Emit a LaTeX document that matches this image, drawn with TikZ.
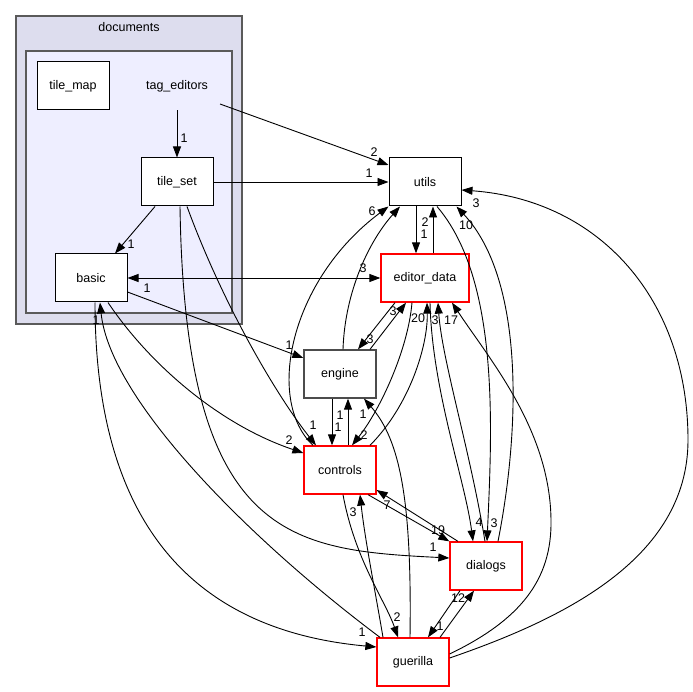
\documentclass[tikz,border=0pt]{standalone}
\usepackage{fontspec}
\setmainfont{Liberation Sans}
\usetikzlibrary{arrows.meta}
\definecolor{outerfill}{HTML}{DDDDEE}
\definecolor{innerfill}{HTML}{EEEEFF}
\definecolor{frame}{HTML}{5A5A5A}
\begin{document}
\begin{tikzpicture}[x=1pt, y=-1pt, every node/.style={font=\fontsize{12.5}{15}\selectfont}, dir/.style={draw, fill=white, minimum width=72pt, minimum height=48pt, inner sep=0pt, line width=1pt}, hot/.style={dir, draw=red, line width=1.3pt}, outerbox/.style={draw=frame, fill=outerfill, line width=1.3pt, inner sep=0pt}, innerbox/.style={draw=frame, fill=innerfill, line width=1.3pt, inner sep=0pt}, arr/.style={-{Triangle[length=11pt,width=8pt]}, line width=0.9pt}, arrboth/.style={{Triangle[length=11pt,width=8pt]}-{Triangle[length=11pt,width=8pt]}, line width=0.9pt}, num/.style={inner sep=0pt}]
\useasboundingbox (0,0) rectangle (693,692);
\node[outerbox, minimum width=226pt, minimum height=308pt] (documents) at (129,170) {};
\node (docname) at (129,27) {documents};
\node[innerbox, minimum width=206pt, minimum height=262pt] (tagcluster) at (129,182) {};
\node[dir] (tilemap) at (73,86) {tile\_map};
\node (tageditors) at (177,86) {tag\_editors};
\node[dir] (tileset) at (177,182) {tile\_set};
\node[dir] (basic) at (91,278) {basic};
\node[dir] (utils) at (425,182) {utils};
\node[hot, minimum width=88pt] (editordata) at (425,278) {editor\_data};
\node[dir, draw=black!70, line width=1.3pt] (engine) at (340,374) {engine};
\node[hot] (controls) at (340,470) {controls};
\node[hot] (dialogs) at (486,566) {dialogs};
\node[hot] (guerilla) at (413,662) {guerilla};
\draw[arr] ([yshift=-15pt]tageditors.south) -- (tileset.north);
\draw[arr] ([xshift=43pt,yshift=-18pt]tageditors.center) -- ([yshift=17pt]utils.west);
\draw[arr] (tileset.east) -- (utils.west);
\draw[arr] ([xshift=-22pt]tileset.south) -- ([xshift=24pt]basic.north);
\draw[arrboth] (basic.east) -- (editordata.west);
\draw[arr] ([yshift=-14pt]basic.east) -- ([yshift=16pt]engine.west);
\draw[arr] ([xshift=17pt]basic.south) .. controls (150,365) and (220,425) .. ([yshift=17pt]controls.west);
\draw[arr] ([xshift=4pt]basic.south) .. controls (95,520) and (190,630) .. ([yshift=15pt]guerilla.west);
\draw[arr] ([xshift=-33pt]guerilla.north) .. controls (250,540) and (110,400) .. ([xshift=9pt]basic.south);
\draw[arr] ([xshift=10pt]tileset.south) .. controls (225,310) and (280,400) .. ([xshift=-24pt]controls.north);
\draw[arr] ([xshift=3pt]tileset.south) .. controls (185,540) and (290,550) .. ([yshift=8pt]dialogs.west);
\draw[arr] ([xshift=-27pt]controls.north) .. controls (265,400) and (290,280) .. (utils.south west);
\draw[arr] ([xshift=3pt]engine.north) .. controls (345,290) and (370,240) .. ([xshift=-25pt]utils.south);
\draw[arr] ([xshift=-9pt]utils.south) -- ([xshift=-9pt]editordata.north);
\draw[arr] ([xshift=8pt]editordata.north) -- ([xshift=8pt]utils.south);
\draw[arr] ([xshift=-30pt]editordata.south) -- ([xshift=18pt]engine.north);
\draw[arr] ([xshift=30pt]engine.north) -- ([xshift=-19pt]editordata.south);
\draw[arr] ([xshift=-8pt]engine.south) -- ([xshift=-8pt]controls.north);
\draw[arr] ([xshift=8pt]controls.north) -- ([xshift=8pt]engine.south);
\draw[arr] ([xshift=-13pt]editordata.south) .. controls (408,350) and (380,410) .. ([xshift=12pt]controls.north);
\draw[arr] ([xshift=30pt]controls.north) .. controls (410,405) and (428,345) .. ([xshift=2pt]editordata.south);
\draw[arr] ([xshift=5pt]editordata.south) .. controls (432,390) and (465,480) .. ([xshift=-13pt]dialogs.north);
\draw[arr] ([xshift=-1pt]dialogs.north) .. controls (470,450) and (442,360) .. ([xshift=13pt]editordata.south);
\draw[arr] ([yshift=8pt]guerilla.east) .. controls (520,620) and (552,580) .. (551,520) .. controls (550,430) and (490,360) .. ([xshift=27pt]editordata.south);
\draw[arr] ([yshift=4pt]guerilla.east) .. controls (560,620) and (688,560) .. (688,440) .. controls (688,300) and (600,200) .. ([yshift=-8pt]utils.east);
\draw[arr] ([xshift=12pt]utils.south) .. controls (500,280) and (492,430) .. ([xshift=1pt]dialogs.north);
\draw[arr] ([xshift=12pt]dialogs.north) .. controls (520,430) and (525,280) .. ([xshift=-5pt]utils.south east);
\draw[arr] ([xshift=28pt]controls.south) -- (dialogs.north west);
\draw[arr] ([xshift=-28pt]dialogs.north) -- ([yshift=-20pt]controls.east);
\draw[arr] ([xshift=3pt]controls.south) .. controls (355,560) and (385,600) .. ([xshift=-15pt]guerilla.north);
\draw[arr] ([xshift=-30pt]guerilla.north) .. controls (375,590) and (365,540) .. ([xshift=20pt]controls.south);
\draw[arr] ([xshift=-3pt]guerilla.north) .. controls (412,500) and (400,440) .. ([xshift=24pt]engine.south);
\draw[arr] ([xshift=-26pt]dialogs.south) -- ([xshift=15pt]guerilla.north);
\draw[arr] ([xshift=27pt]guerilla.north) -- ([xshift=-12pt]dialogs.south);
\node[num] (tag2ts) at (184,138) {1};
\node[num] (tag2ut) at (374,152) {2};
\node[num] (ts2ut) at (369,173) {1};
\node[num] (ts2ba) at (131,244) {1};
\node[num] (ba2ed) at (363,268) {3};
\node[num] (ed2ba) at (147,288) {1};
\node[num] (ba2en) at (289,345) {1};
\node[num] (ba2co) at (289,440) {2};
\node[num] (ba2gu) at (362,632) {1};
\node[num] (gu2ba) at (96,320) {1};
\node[num] (ts2co) at (313,425) {1};
\node[num] (ts2di) at (433,547) {1};
\node[num] (co2ut) at (372,211) {6};
\node[num] (ut2ed) at (424,234) {1};
\node[num] (ed2ut) at (425,222) {2};
\node[num] (ed2en) at (370,339) {3};
\node[num] (en2ed) at (393,311) {3};
\node[num] (en2co) at (338,427) {1};
\node[num] (co2en) at (340,415) {1};
\node[num] (ed2co) at (364,435) {2};
\node[num] (co2ed) at (418,318) {20};
\node[num] (ed2di) at (479,522) {4};
\node[num] (di2ed) at (435,320) {3};
\node[num] (gu2ed) at (451,320) {17};
\node[num] (gu2ut) at (476,203) {3};
\node[num] (ut2di) at (494,523) {3};
\node[num] (di2ut) at (466,225) {10};
\node[num] (co2di) at (438,530) {19};
\node[num] (di2co) at (387,505) {7};
\node[num] (co2gu) at (397,617) {2};
\node[num] (gu2co) at (353,512) {3};
\node[num] (gu2en) at (363,414) {1};
\node[num] (di2gu) at (440,626) {1};
\node[num] (gu2di) at (458,598) {12};
\end{tikzpicture}
\end{document}
